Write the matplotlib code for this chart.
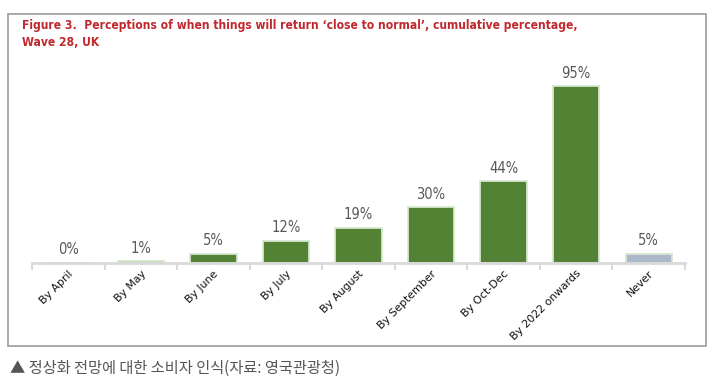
import matplotlib
matplotlib.use("Agg")
import matplotlib.pyplot as plt
from matplotlib.patches import Rectangle
from matplotlib import font_manager
import numpy as np

categories = ["By April", "By May", "By June", "By July", "By August",
              "By September", "By Oct-Dec", "By 2022 onwards", "Never"]
values = [0, 1, 5, 12, 19, 30, 44, 95, 5]
labels = ["0%", "1%", "5%", "12%", "19%", "30%", "44%", "95%", "5%"]
colors = ["#548235"] * 8 + ["#ADB9CA"]

title = "Figure 3.  Perceptions of when things will return \u2018close to normal\u2019, cumulative percentage,\nWave 28, UK"
caption = "\u25b2 정상화 전망에 대한 소비자 인식(자료: 영국관광청)"

names = {f.name for f in font_manager.fontManager.ttflist}
narrow = "Liberation Sans Narrow" if "Liberation Sans Narrow" in names else "DejaVu Sans"

fig = plt.figure(figsize=(7.13, 3.87), dpi=100)

# frame around the figure block
fig.patches.append(Rectangle((8 / 713, 1 - 346 / 387), 698 / 713, 332 / 387,
                             transform=fig.transFigure, fill=False,
                             edgecolor="#9a9a9a", linewidth=1.2))

ax = fig.add_axes([32 / 713, 1 - 263 / 387, 653 / 713, 186 / 387])
x = np.arange(len(categories))
bars = ax.bar(x, values, width=0.64, color=colors, edgecolor="#D5E8CF", linewidth=1.3)
ax.set_xlim(-0.5, len(categories) - 0.5)
ax.set_ylim(0, 100)

for xi, v, lab in zip(x, values, labels):
    ax.text(xi, v + 3, lab, ha="center", va="bottom", fontsize=10.5,
            color="#595959", family=narrow, fontstretch="condensed")

for s in ["top", "right", "left"]:
    ax.spines[s].set_visible(False)
ax.spines["bottom"].set_color("#D9D9D9")
ax.spines["bottom"].set_linewidth(2)
ax.set_yticks([])
ax.set_xticks(np.arange(len(categories) + 1) - 0.5, minor=True)
ax.tick_params(axis="x", which="minor", length=5, width=1.5, color="#D9D9D9")
ax.tick_params(axis="x", which="major", length=0, pad=4)
ax.set_xticks(x)
ax.set_xticklabels(categories, rotation=45, ha="right", rotation_mode="anchor",
                   fontsize=7.8, family="DejaVu Sans", color="#111111")

t = fig.text(22 / 713, 1 - 19 / 387, title, ha="left", va="top", fontsize=10.5,
             fontweight="bold", color="#C0282D", family=narrow,
             fontstretch="condensed", linespacing=1.45)

# shrink the title so its first line spans about as wide as in the original
fig.canvas.draw()
w = t.get_window_extent().width
if w > 556:
    t.set_fontsize(10.5 * 556 / w)

fig.text(10 / 713, 1 - 368 / 387, caption, ha="left", va="center", fontsize=11,
         color="#555555", family=["Noto Sans CJK KR", "DejaVu Sans"])

fig.savefig("out.png", dpi=100)
